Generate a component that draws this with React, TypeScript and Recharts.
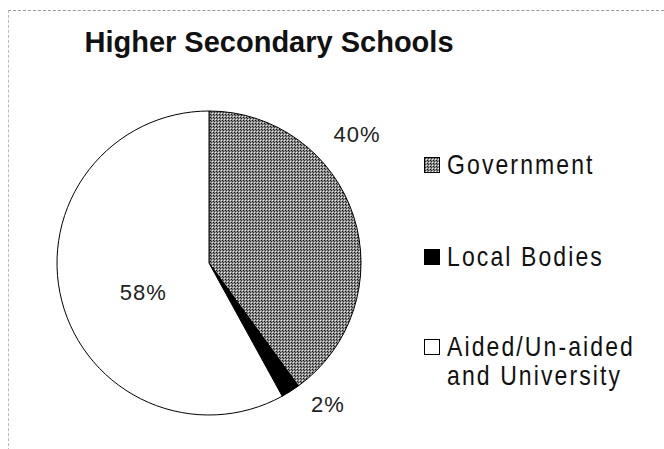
import { PieChart, Pie, Cell } from "recharts";

const categories = ["Government", "Local Bodies", "Aided/Un-aided and University"];
const shares = [40, 2, 58];
const legendLines = [["Government"], ["Local Bodies"], ["Aided/Un-aided", "and University"]];

const data = categories.map((name, i) => ({ name, value: shares[i] }));

const fills = ["url(#govDots)", "#000000", "#ffffff"];
// Excel-style label placement tweaks: [angle offset in deg, radius]
const labelPlacement = [
  [23, 196],
  [7.6, 185],
  [9.6, 72],
];
const legendTops = [150, 242, 332];

const FONT = "Liberation Sans, Arial, sans-serif";
const RADIAN = Math.PI / 180;

function renderLabel(props: any) {
  const { cx, cy, midAngle, index, value } = props;
  const [off, r] = labelPlacement[index];
  const a = (midAngle + off) * RADIAN;
  const x = cx + r * Math.cos(a);
  const y = cy - r * Math.sin(a);
  return (
    <text
      x={x}
      y={y}
      textAnchor="middle"
      dominantBaseline="central"
      fontSize={22}
      letterSpacing={1}
      fill="#222"
      fontFamily={FONT}
    >
      {value}%
    </text>
  );
}

function ChartLegend() {
  return (
    <>
      {data.map((d, i) => (
        <div
          key={d.name}
          style={{
            position: "absolute",
            left: 424,
            top: legendTops[i],
            display: "flex",
            alignItems: "flex-start",
            fontFamily: FONT,
            fontSize: 23,
            letterSpacing: 2.1,
            lineHeight: "25px",
            color: "#111",
          }}
        >
          <svg width={17} height={17} style={{ marginTop: 6.5, marginRight: 6, flexShrink: 0 }}>
            <rect x={0.5} y={0.5} width={15} height={15} fill={fills[i]} stroke="#000" strokeWidth={1} />
          </svg>
          <div style={{ transform: "scaleY(1.18)", transformOrigin: "top left" }}>
            {legendLines[i].map((l) => (
              <div key={l}>{l}</div>
            ))}
          </div>
        </div>
      ))}
    </>
  );
}

export default function App() {
  return (
    <div style={{ position: "absolute", left: 0, top: 0, width: 664, height: 449, background: "#fff" }}>
      <div
        style={{
          position: "absolute",
          left: 8,
          top: 10,
          width: 660,
          height: 445,
          borderTop: "1px dashed #999",
          borderLeft: "1px dashed #bbb",
        }}
      />
      <div
        style={{
          position: "absolute",
          left: 0,
          top: 26,
          width: 538,
          textAlign: "center",
          fontFamily: FONT,
          fontWeight: "bold",
          fontSize: 29,
          color: "#111",
        }}
      >
        Higher Secondary Schools
      </div>
      <PieChart
        width={664}
        height={449}
        margin={{ top: 0, right: 0, bottom: 0, left: 0 }}
        style={{ position: "absolute", left: 0, top: 0 }}
      >
        <defs>
          <pattern id="govDots" width={3} height={3} patternUnits="userSpaceOnUse">
            <rect width={3} height={3} fill="#8e8e8e" />
            <rect x={0} y={0} width={1} height={1} fill="#111" />
            <rect x={1} y={1} width={1} height={1} fill="#333" />
            <rect x={2} y={2} width={1} height={1} fill="#eee" />
          </pattern>
        </defs>
        <Pie
          data={data}
          dataKey="value"
          nameKey="name"
          cx={209}
          cy={263}
          outerRadius={152}
          startAngle={90}
          endAngle={-270}
          stroke="#000"
          strokeWidth={1}
          label={renderLabel}
          labelLine={false}
          isAnimationActive={false}
        >
          {data.map((d, i) => (
            <Cell key={d.name} fill={fills[i]} />
          ))}
        </Pie>
      </PieChart>
      <ChartLegend />
    </div>
  );
}
